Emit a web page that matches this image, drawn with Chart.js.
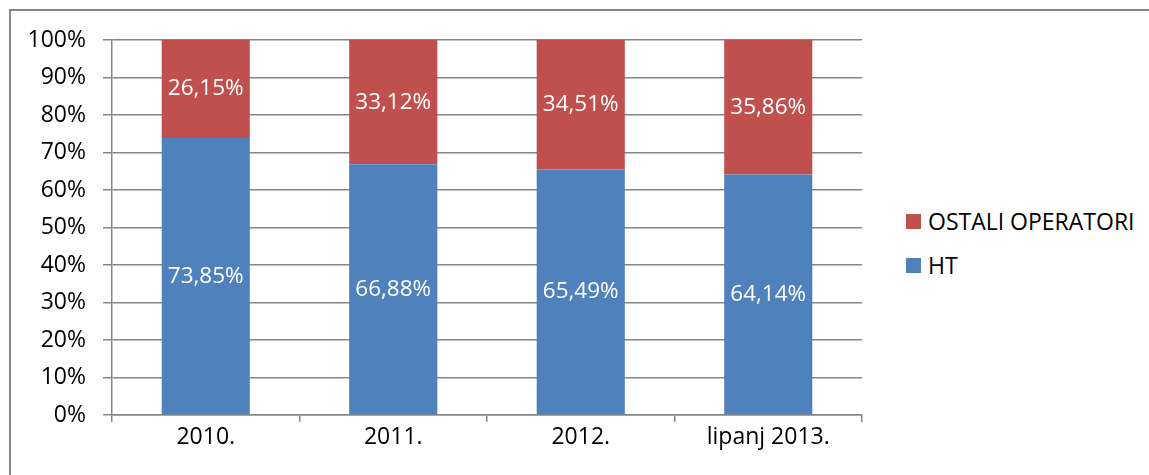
<!DOCTYPE html>
<html>
<head>
<meta charset="utf-8">
<script src="https://cdn.jsdelivr.net/npm/chart.js@4/dist/chart.umd.min.js"></script>
<style>
  html, body { margin: 0; padding: 0; background: #fff; width: 1149px; height: 475px; overflow: hidden; }
  #frame { position: absolute; left: 9px; top: 9px; width: 1300px; height: 700px; border: 2px solid #878787; box-sizing: border-box; }
  #c { position: absolute; left: 0; top: 0; }
  .leg { position: absolute; left: 906px; font-family: "Open Sans", sans-serif; font-size: 23px; color: #000; white-space: nowrap; }
  .leg span.box { position: absolute; left: 0; width: 15px; height: 15px; }
  .leg span.txt { position: absolute; left: 22px; line-height: 28px; }
</style>
</head>
<body>
<div id="frame"></div>
<canvas id="c" width="880" height="475"></canvas>
<div class="leg" style="top:214px"><span class="box" style="top:0;background:#C0504D"></span><span class="txt" style="top:-7px">OSTALI OPERATORI</span></div>
<div class="leg" style="top:258px"><span class="box" style="top:0;background:#4F81BD"></span><span class="txt" style="top:-7px">HT</span></div>
<script>
const categories = ["2010.", "2011.", "2012.", "lipanj 2013."];
const htValues = [73.85, 66.88, 65.49, 64.14];
const ostaliValues = [26.15, 33.12, 34.51, 35.86];
const yTicks = [0, 10, 20, 30, 40, 50, 60, 70, 80, 90, 100];

const FONT = "'Open Sans', sans-serif";
const GRID = "#868686";

const labelPlugin = {
  id: 'segLabels',
  afterDatasetsDraw(chart) {
    const ctx = chart.ctx;
    ctx.save();
    ctx.fillStyle = '#ffffff';
    ctx.font = "22.5px " + FONT;
    ctx.textAlign = 'center';
    ctx.textBaseline = 'middle';
    chart.data.datasets.forEach((ds, i) => {
      const meta = chart.getDatasetMeta(i);
      meta.data.forEach((el, j) => {
        const p = el.getCenterPoint();
        const txt = ds.data[j].toFixed(2).replace('.', ',') + '%';
        ctx.fillText(txt, p.x, p.y);
      });
    });
    ctx.restore();
  }
};

new Chart(document.getElementById('c'), {
  type: 'bar',
  data: {
    labels: categories,
    datasets: [
      { label: 'HT', data: htValues, backgroundColor: '#4F81BD', barPercentage: 0.47, categoryPercentage: 1 },
      { label: 'OSTALI OPERATORI', data: ostaliValues, backgroundColor: '#C0504D', barPercentage: 0.47, categoryPercentage: 1 }
    ]
  },
  options: {
    responsive: false,
    animation: false,
    devicePixelRatio: 1,
    layout: { padding: { top: 40, right: 18, bottom: 0, left: 0 } },
    plugins: { legend: { display: false }, tooltip: { enabled: false } },
    scales: {
      x: {
        stacked: true,
        afterFit(s) { s.height = 60; },
        grid: { offset: true, drawOnChartArea: false, drawTicks: true, tickLength: 7, color: GRID, lineWidth: 1.5 },
        border: { color: GRID, width: 1.5 },
        ticks: { color: '#000', font: { family: FONT, size: 23 }, padding: 2, maxRotation: 0 }
      },
      y: {
        stacked: true,
        min: 0, max: 100,
        afterFit(s) { s.width = 112; },
        afterBuildTicks(s) { s.ticks = yTicks.map(v => ({ value: v })); },
        grid: { color: GRID, lineWidth: 1.5, tickLength: 9, drawTicks: true },
        border: { color: GRID, width: 1.5 },
        ticks: { color: '#000', font: { family: FONT, size: 23 }, padding: 17, callback: v => v + '%' }
      }
    }
  },
  plugins: [labelPlugin]
});
</script>
</body>
</html>
